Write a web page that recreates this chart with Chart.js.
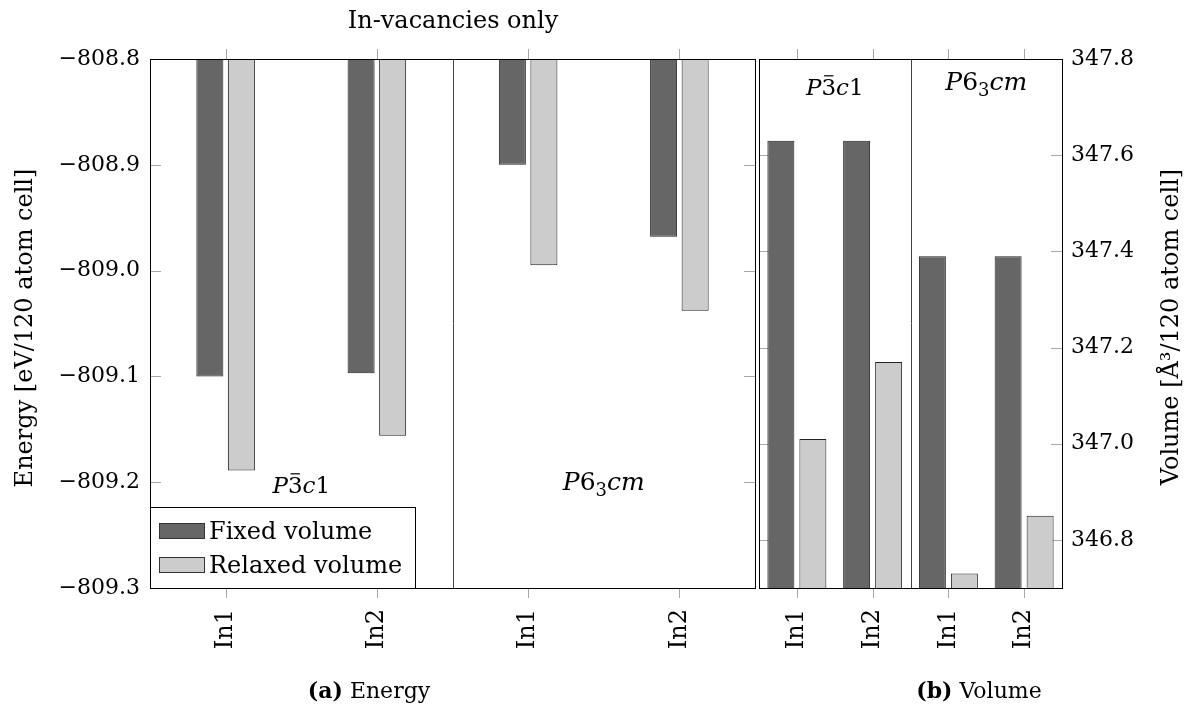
<!DOCTYPE html>
<html>
<head>
<meta charset="utf-8">
<script src="https://cdn.jsdelivr.net/npm/chart.js@4.4.0/dist/chart.umd.min.js"></script>
<style>
  html, body { margin: 0; padding: 0; background: #fff; }
  #wrap { position: relative; width: 1187px; height: 709px; }
  canvas { position: absolute; top: 0; }
  #energyChart { left: 0; }
  #volumeChart { left: 757px; }
</style>
</head>
<body>
<div id="wrap">
  <canvas id="energyChart" width="760" height="709"></canvas>
  <canvas id="volumeChart" width="430" height="709"></canvas>
</div>
<script>
// vacancy sites, two per space group
const sites = ['In1', 'In2', 'In1', 'In2'];
const seriesNames = ['Fixed volume', 'Relaxed volume'];

// total energy, eV per 120 atom cell
const energyFixed = [-809.100, -809.097, -808.900, -808.968];
const energyRelaxed = [-809.189, -809.156, -808.995, -809.038];

// cell volume, Å^3 per 120 atom cell
const volumeFixed = [347.63, 347.63, 347.39, 347.39];
const volumeRelaxed = [347.01, 347.17, 346.73, 346.85];

const energyTicks = [-809.3, -809.2, -809.1, -809.0, -808.9, -808.8];
const volumeTicks = [346.8, 347.0, 347.2, 347.4, 347.6, 347.8];

const SERIF = '"DejaVu Serif", serif';
const NUM = 22;   // tick numbers
const TXT = 24;   // words
const DARK = '#666666';
const LIGHT = '#cccccc';

// space group names as styled runs
const P3c1 = [{ t: 'P', f: 'italic' }, { t: '3', bar: true }, { t: 'c', f: 'italic' }, { t: '1' }];
const P63cm = [{ t: 'P', f: 'italic' }, { t: '6' }, { t: '3', sub: true }, { t: 'cm', f: 'italic' }];

function runFont(r, size) {
  const s = r.sub ? Math.round(size * 0.7) : size;
  return `${r.f || ''} ${s}px ${SERIF}`;
}

// draw a row of mixed-style text centred on x, sitting on baseline y
function drawRuns(ctx, runs, x, y, size) {
  let w = 0;
  runs.forEach(r => { ctx.font = runFont(r, size); r.w = ctx.measureText(r.t).width; w += r.w; });
  let cx = x - w / 2;
  ctx.textAlign = 'left';
  ctx.textBaseline = 'alphabetic';
  ctx.fillStyle = '#000';
  runs.forEach(r => {
    ctx.font = runFont(r, size);
    ctx.fillText(r.t, cx, y + (r.sub ? size * 0.25 : 0));
    if (r.bar) ctx.fillRect(cx + r.w * 0.18, y - size * 0.86, r.w * 0.64, 1.2);
    cx += r.w;
  });
}

function drawRotated(ctx, runs, x, y, size) {
  ctx.save();
  ctx.translate(x, y);
  ctx.rotate(-Math.PI / 2);
  drawRuns(ctx, runs, 0, 0, size);
  ctx.restore();
}

// tick marks on all four sides, drawn under the bars
const ticksPlugin = {
  id: 'pgfTicks',
  beforeDatasetsDraw(chart) {
    const { ctx, chartArea: a, scales: { x, y } } = chart;
    ctx.save();
    ctx.strokeStyle = '#a8a8a8';
    ctx.lineWidth = 1;
    ctx.beginPath();
    y.ticks.forEach((t, i) => {
      const py = Math.round(y.getPixelForTick(i)) + 0.5;
      if (py < a.top + 2 || py > a.bottom - 2) return;
      ctx.moveTo(a.left, py); ctx.lineTo(a.left + 11, py);
      ctx.moveTo(a.right, py); ctx.lineTo(a.right - 11, py);
    });
    x.ticks.forEach((t, i) => {
      const px = Math.round(x.getPixelForTick(i)) + 0.5;
      ctx.moveTo(px, a.top); ctx.lineTo(px, a.top - 10);
      ctx.moveTo(px, a.bottom); ctx.lineTo(px, a.bottom + 10);
    });
    ctx.stroke();
    ctx.restore();
  }
};

// frame, space-group divider, group names and free text
const framePlugin = {
  id: 'pgfFrame',
  afterDatasetsDraw(chart, args, opts) {
    const { ctx, chartArea: a, scales: { x } } = chart;
    ctx.save();
    const sx = Math.round(x.getPixelForValue(1.5)) + 0.5;
    ctx.strokeStyle = '#444';
    ctx.lineWidth = 1;
    ctx.beginPath();
    ctx.moveTo(sx, a.top); ctx.lineTo(sx, a.bottom);
    ctx.stroke();
    ctx.strokeStyle = '#000';
    ctx.strokeRect(Math.round(a.left) + 0.5, Math.round(a.top) + 0.5,
      Math.round(a.right - a.left), Math.round(a.bottom - a.top));

    (opts.groups || []).forEach(g => {
      drawRuns(ctx, g.runs, x.getPixelForValue(g.at), a.top + g.dy, g.size);
    });
    (opts.texts || []).forEach(t => {
      if (t.rotate) drawRotated(ctx, t.runs, t.x, t.y, t.size);
      else drawRuns(ctx, t.runs, t.x, t.y, t.size);
    });

    if (opts.legend) {
      const L = opts.legend;
      ctx.fillStyle = '#fff';
      ctx.fillRect(a.left, L.top, L.width, a.bottom - L.top);
      ctx.strokeStyle = '#000';
      ctx.strokeRect(Math.round(a.left) + 0.5, L.top + 0.5, L.width, Math.round(a.bottom - L.top));
      chart.data.datasets.forEach((ds, i) => {
        const yy = L.top + 16 + i * 34;
        ctx.fillStyle = ds.backgroundColor;
        ctx.fillRect(a.left + 9, yy, 45, 15);
        ctx.strokeStyle = '#333';
        ctx.strokeRect(a.left + 9.5, yy + 0.5, 45, 15);
        ctx.fillStyle = '#000';
        ctx.font = `${TXT}px ${SERIF}`;
        ctx.textAlign = 'left';
        ctx.textBaseline = 'alphabetic';
        ctx.fillText(ds.label, a.left + 59, yy + 16);
      });
    }
    ctx.restore();
  }
};

const minusFmt = v => (v < 0 ? '\u2212' : '') + Math.abs(v).toFixed(1);

function xScale() {
  return {
    grid: { display: false, drawTicks: false },
    border: { display: false },
    ticks: { maxRotation: 90, minRotation: 90, padding: 21, color: '#000', font: { family: SERIF, size: TXT } },
    afterFit(s) { s.height = 121; }
  };
}

function barSet(label, data, color, cat, bar) {
  return {
    label, data,
    backgroundColor: color,
    borderColor: '#222',
    borderWidth: 1,
    borderSkipped: false,
    categoryPercentage: cat,
    barPercentage: bar
  };
}

new Chart(document.getElementById('energyChart'), {
  type: 'bar',
  data: {
    labels: sites,
    datasets: [
      barSet(seriesNames[0], energyFixed, DARK, 0.417, 0.857),
      barSet(seriesNames[1], energyRelaxed, LIGHT, 0.417, 0.857)
    ]
  },
  options: {
    responsive: false,
    animation: false,
    layout: { padding: { left: 0, top: 59, right: 5, bottom: 0 } },
    plugins: {
      legend: { display: false },
      tooltip: { enabled: false },
      pgfFrame: {
        groups: [
          { runs: P3c1, at: 0.5, dy: 434, size: 23 },
          { runs: P63cm, at: 2.5, dy: 431, size: 25 }
        ],
        texts: [
          { runs: [{ t: 'In-vacancies only' }], x: 453, y: 28, size: TXT },
          { runs: [{ t: '(a)', f: 'bold' }, { t: ' Energy' }], x: 369, y: 698, size: 22 },
          { runs: [{ t: 'Energy [eV/120 atom cell]' }], x: 32, y: 328, size: TXT, rotate: true }
        ],
        legend: { top: 507, width: 265 }
      }
    },
    scales: {
      x: xScale(),
      y: {
        min: -809.3,
        max: -808.8,
        afterBuildTicks(s) { s.ticks = energyTicks.map(v => ({ value: v })); },
        grid: { display: false, drawTicks: false },
        border: { display: false },
        ticks: { callback: minusFmt, padding: 10, color: '#000', font: { family: SERIF, size: NUM } },
        afterFit(s) { s.width = 150; }
      }
    }
  },
  plugins: [ticksPlugin, framePlugin]
});

new Chart(document.getElementById('volumeChart'), {
  type: 'bar',
  data: {
    labels: sites,
    datasets: [
      barSet(seriesNames[0], volumeFixed, DARK, 0.845, 0.843),
      barSet(seriesNames[1], volumeRelaxed, LIGHT, 0.845, 0.843)
    ]
  },
  options: {
    responsive: false,
    animation: false,
    layout: { padding: { left: 2, top: 59, right: 0, bottom: 0 } },
    plugins: {
      legend: { display: false },
      tooltip: { enabled: false },
      pgfFrame: {
        groups: [
          { runs: P3c1, at: 0.5, dy: 36, size: 23 },
          { runs: P63cm, at: 2.5, dy: 31, size: 25 }
        ],
        texts: [
          { runs: [{ t: '(b)', f: 'bold' }, { t: ' Volume' }], x: 222, y: 698, size: 22 },
          { runs: [{ t: 'Volume [Å³/120 atom cell]' }], x: 421, y: 327, size: TXT, rotate: true }
        ]
      }
    },
    scales: {
      x: xScale(),
      y: {
        position: 'right',
        min: 346.7,
        max: 347.8,
        afterBuildTicks(s) { s.ticks = volumeTicks.map(v => ({ value: v })); },
        grid: { display: false, drawTicks: false },
        border: { display: false },
        ticks: { callback: v => v.toFixed(1), padding: 9, color: '#000', font: { family: SERIF, size: NUM } },
        afterFit(s) { s.width = 125; }
      }
    }
  },
  plugins: [ticksPlugin, framePlugin]
});
</script>
</body>
</html>
